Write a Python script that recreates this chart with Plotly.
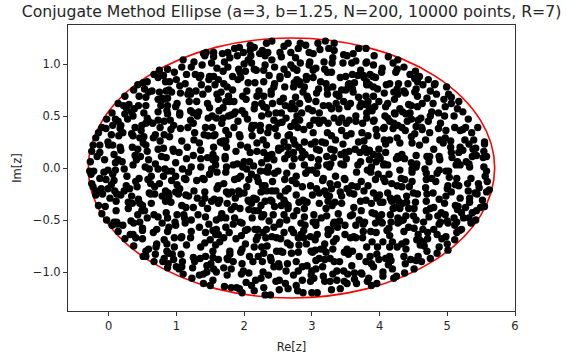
import plotly.graph_objects as go

# Ellipse boundary (Re centre, semi-axes)
ellipse_center_re = 2.7
ellipse_a = 3.0
ellipse_b = 1.25

x_ticks = [0, 1, 2, 3, 4, 5, 6]
y_ticks = [-1.0, -0.5, 0.0, 0.5, 1.0]
y_tick_text = ["\u22121.0", "\u22120.5", "0.0", "0.5", "1.0"]

# Eigenvalue estimates, Re[z] and Im[z] in hundredths, listed by band of Im[z] (top to bottom)
re_rows = [
    [193,209,215,233,241,259,265,283,291,309,320,333],
    [140,144,155,168,176,186,199,209,223,227,235,253,269,280,296,302,312,325,333,347,361,369,380],
    [110,126,142,155,171,179,190,206,210,231,241,255,276,297,318,331,352,365,381,392,413,427],
    [87,108,122,138,152,160,176,192,200,211,215,231,245,259,269,273,283,296,306,319,330,346,359,380,391,404,420,426,436],
    [67,75,81,97,115,128,136,149,155,169,183,194,202,218,229,237,253,264,278,292,302,323,329,350,360,368,372,376,386,390,403,424,445,453,459],
    [51,57,73,84,90,100,113,134,148,162,170,191,195,206,216,229,245,253,274,278,282,292,302,313,321,342,355,363,377,381,394,415,428,442,452,456,472,482],
    [37,43,53,64,85,89,105,119,129,137,147,157,175,183,204,222,240,244,260,273,283,289,310,323,331,344,350,354,360,381,385,391,397,410,426,436,454,464,475,481,499],
    [24,45,55,59,75,79,87,93,106,117,121,139,160,166,177,198,219,229,240,258,276,287,293,307,323,336,340,361,369,380,391,407,421,427,438,452,456,470,484,502,506],
    [14,22,30,44,55,73,77,81,87,101,119,130,146,162,173,179,185,203,216,226,242,253,261,271,282,295,306,317,325,336,347,357,373,379,383,399,412,422,443,447,463,479,495,506,517],
    [5,26,34,38,52,73,86,99,105,121,125,133,149,163,169,187,197,215,229,233,247,255,269,275,285,295,301,311,329,340,353,371,381,385,389,393,409,422,430,434,445,456,477,487,497,515,523],
    [-3,10,24,28,36,57,73,87,91,105,121,131,147,153,159,169,177,181,185,201,205,226,236,244,262,278,282,303,309,317,333,344,355,365,381,392,408,412,423,439,447,457,461,475,496,510,531],
    [-10,6,14,18,39,49,55,59,65,76,82,96,117,125,143,153,167,185,191,212,216,224,237,250,256,269,275,279,297,311,324,340,351,365,375,391,407,415,421,427,433,441,454,462,472,490,511,527,545],
    [-15,-4,4,17,21,34,48,69,82,92,106,127,141,157,173,177,193,211,224,235,246,267,288,302,323,344,358,374,395,406,420,438,452,463,474,487,498,519,523,536],
    [-19,-1,15,36,46,52,66,76,90,108,126,147,155,165,169,173,194,212,228,249,259,265,273,289,305,315,329,335,351,369,377,383,396,407,415,426,447,468,489,497,505,526,539,555],
    [-23,-13,0,6,17,35,43,51,55,73,81,95,116,134,155,168,174,195,205,219,233,251,255,265,275,281,299,307,320,328,346,364,378,399,409,430,448,459,480,494,505,519,532,538,542,555],
    [-25,-17,-13,8,18,39,47,57,78,96,104,125,136,154,172,188,209,219,229,237,241,251,265,273,286,290,311,322,333,343,349,355,371,381,385,391,399,409,427,433,454,470,474,488,506,517,523,537,543,554,558],
    [-27,-6,10,14,20,41,59,69,85,99,115,136,146,154,158,172,190,200,208,226,234,244,260,274,285,299,310,328,332,343,351,372,385,395,401,407,425,429,437,447,455,473,489,507,515,528,532,553],
    [-28,-22,-1,10,23,36,54,60,73,83,87,93,109,122,136,152,158,174,184,198,204,214,224,232,236,250,271,289,295,301,309,322,326,347,368,382,388,406,412,430,448,454,467,488,498,502,513,519,533,554,558],
    [-26,-13,-7,6,27,45,63,81,99,112,118,139,149,160,173,191,195,211,219,235,245,263,277,291,307,317,335,348,366,387,398,406,414,432,448,469,477,485,503,514,535,556],
    [-25,-4,4,8,26,40,58,62,75,93,101,114,130,141,162,170,186,207,221,227,231,242,260,271,277,298,316,327,338,349,359,373,383,394,408,418,426,437,448,469,483,501,512,530,546,559],
    [-23,-19,-11,-1,9,23,31,42,60,68,84,88,99,105,126,142,160,174,182,192,200,204,225,229,233,241,247,261,265,286,307,311,319,329,342,352,356,367,377,391,412,433,444,450,468,479,500,506,517,531,541,547,558,562],
    [-19,-9,2,12,18,34,44,62,68,79,89,103,114,118,131,142,156,164,177,187,193,206,214,218,239,253,259,277,287,301,322,326,344,362,380,396,400,416,420,426,440,456,470,488,498,519,533,544,552],
    [-15,-5,11,29,35,46,50,63,84,92,108,114,125,138,152,162,175,186,207,211,225,231,241,245,255,261,265,281,289,293,311,324,330,334,344,362,372,388,401,405,418,424,428,434,440,453,469,480,496,512,516,527,533,549,555],
    [-10,11,29,43,49,53,67,85,101,111,132,146,167,181,194,207,215,221,229,243,259,265,278,289,303,321,339,360,373,389,393,403,416,420,430,443,451,469,475,491,497,515,521,537,543],
    [-3,8,12,33,46,57,73,87,98,112,122,143,159,165,173,186,194,212,226,237,253,263,273,289,302,306,314,322,333,341,357,370,378,399,403,417,427,431,435,439,450,454,465,473,486,490,500,510,514,524,532,542],
    [5,13,21,37,50,71,79,89,99,113,134,148,159,173,184,197,205,216,220,233,244,252,270,284,290,306,324,332,338,349,365,376,394,404,414,427,443,451,464,480,488,501,511,521,535],
    [14,32,36,50,66,87,108,122,143,154,158,162,178,196,202,220,228,241,259,273,284,288,298,308,324,328,349,362,376,387,395,411,415,436,457,471,485,498,514,518],
    [24,40,50,71,82,86,97,107,121,142,150,164,170,188,202,218,232,248,254,264,280,288,292,305,319,332,336,357,365,375,389,405,419,433,439,455,459,465,471,492,500,511],
    [37,55,59,70,86,97,115,136,154,158,179,197,215,226,234,248,254,268,281,299,305,313,317,331,352,360,381,397,415,426,439,460,466,470,488,501],
    [51,55,69,82,88,94,107,125,135,143,154,175,179,195,208,221,229,239,257,270,280,301,311,321,327,348,354,370,386,396,409,415,436,457,475,485],
    [67,80,88,96,109,127,145,151,162,176,184,197,213,227,240,251,264,277,293,306,319,333,341,359,380,388,399,413,417,438,446,454,462],
    [87,100,104,108,124,145,155,159,170,181,199,207,228,244,252,262,280,286,300,306,316,337,347,363,373,391,405,419,437,451],
    [110,123,134,140,154,175,196,217,225,236,252,273,286,299,303,317,331,337,353,363,374,384,405,421,425],
    [140,150,171,181,189,203,211,229,247,261,277,298,319,327,348,352,366,382,388,396],
    [193,197,215,231,239,252,265,279,287,300,308,329,342],
]

im_rows = [
    [116,118,116,120,122,117,120,120,118,120,122,120],
    [110,111,111,110,111,115,111,113,110,113,111,111,111,115,111,110,114,115,113,109,110,115,115],
    [104,102,108,107,102,106,108,104,108,108,104,107,106,102,102,106,108,103,102,108,107,104],
    [95,97,97,99,101,96,97,95,100,101,95,99,97,95,99,96,101,99,96,95,101,101,101,101,99,96,101,95,97],
    [90,94,89,92,90,90,89,88,88,93,88,92,93,94,94,89,88,90,94,88,94,92,92,88,90,89,94,89,90,88,92,92,90,93,88],
    [82,83,87,83,83,85,81,87,85,85,81,85,87,82,82,83,81,86,82,85,83,85,87,83,81,87,81,82,87,83,87,81,81,81,86,83,85,81],
    [75,80,76,74,74,75,79,74,74,80,76,80,78,75,74,74,74,78,78,78,80,78,76,76,78,75,75,80,76,80,80,78,76,80,76,74,76,80,74,80,78],
    [69,69,68,73,73,67,67,73,72,71,71,71,71,73,69,69,69,69,71,67,68,73,69,72,71,71,69,73,68,69,69,72,73,71,72,73,69,67,71,71,68],
    [62,60,61,60,60,66,60,66,60,62,64,64,62,66,64,64,64,66,61,62,62,64,60,62,62,66,64,60,60,62,64,62,62,61,64,64,62,66,61,60,62,62,66,62,64],
    [53,58,54,57,53,54,55,59,53,55,53,54,58,55,58,54,55,57,59,58,53,53,57,57,53,57,55,53,57,57,59,59,53,58,55,59,59,53,57,54,53,59,54,53,59,57,54],
    [47,47,52,47,50,48,46,52,46,51,46,50,48,50,48,48,50,51,52,52,47,50,52,46,48,50,46,46,46,46,48,48,46,50,48,46,50,48,52,52,47,46,48,50,50,50,47],
    [39,41,45,41,39,41,43,45,43,39,45,41,39,43,39,39,43,39,45,41,41,41,39,43,44,40,44,39,41,43,43,44,43,45,43,45,39,45,43,41,39,45,40,39,45,43,39,39,39],
    [34,38,32,38,34,33,36,32,32,37,38,34,32,32,36,32,32,38,36,34,38,32,37,34,34,36,33,34,37,38,38,36,33,37,34,38,36,36,37,34],
    [29,25,31,31,29,30,29,26,30,26,27,31,31,25,26,26,30,31,27,31,25,31,27,25,25,25,31,27,31,25,26,31,31,27,27,29,30,27,27,29,26,27,27,25],
    [22,22,22,22,20,20,18,24,22,18,19,18,20,24,20,24,20,22,20,24,22,19,19,20,23,20,23,18,24,18,23,18,19,18,23,24,24,22,18,24,20,20,23,18,19,23],
    [16,11,15,13,17,12,11,16,11,16,15,12,17,13,11,16,15,16,15,12,13,17,13,15,16,13,17,11,17,13,15,16,15,15,17,13,11,15,11,13,12,11,11,11,15,15,17,11,12,16,11],
    [6,8,5,8,6,8,8,4,10,5,9,9,10,8,9,9,4,6,6,5,9,8,9,9,10,10,8,4,10,4,9,6,8,6,9,4,9,10,9,5,4,6,8,10,6,6,4,10],
    [-3,-3,-2,-2,-1,3,1,-1,-1,-1,-3,-3,-1,1,1,-1,3,1,3,1,-1,2,-3,-3,1,-3,2,3,-2,-2,2,3,1,3,3,-2,1,3,3,-2,-1,1,-1,-2,-3,-3,3,3,1,1,-3],
    [-6,-10,-4,-6,-8,-10,-8,-8,-8,-10,-4,-10,-6,-4,-4,-10,-8,-6,-9,-4,-5,-5,-8,-5,-5,-10,-8,-10,-4,-4,-6,-10,-6,-10,-4,-5,-10,-5,-9,-10,-10,-8],
    [-15,-11,-16,-12,-17,-13,-11,-15,-15,-12,-16,-11,-12,-11,-17,-15,-11,-11,-13,-17,-17,-13,-11,-12,-15,-17,-12,-15,-16,-11,-17,-13,-17,-11,-13,-15,-17,-11,-13,-11,-13,-17,-16,-15,-15,-13],
    [-18,-22,-20,-20,-22,-22,-20,-18,-24,-18,-22,-24,-23,-20,-22,-23,-20,-23,-23,-22,-24,-18,-23,-20,-22,-22,-22,-22,-20,-18,-20,-24,-22,-20,-23,-20,-24,-18,-22,-24,-24,-18,-18,-24,-19,-24,-20,-23,-17,-22,-24,-19,-23,-21],
    [-26,-25,-29,-25,-26,-27,-30,-25,-25,-27,-27,-25,-26,-27,-29,-29,-30,-31,-25,-29,-25,-31,-29,-30,-31,-27,-31,-26,-31,-26,-26,-27,-27,-25,-31,-29,-26,-29,-31,-29,-27,-25,-25,-30,-27,-29,-29,-25,-31],
    [-36,-37,-32,-33,-34,-34,-36,-34,-32,-33,-36,-38,-38,-34,-32,-34,-34,-37,-32,-34,-36,-32,-32,-37,-36,-34,-36,-33,-32,-33,-34,-32,-36,-33,-34,-38,-32,-34,-33,-33,-32,-38,-32,-34,-33,-33,-32,-38,-34,-36,-37,-38,-33,-38,-37],
    [-44,-41,-39,-45,-41,-41,-45,-43,-45,-45,-45,-39,-44,-40,-39,-40,-41,-41,-45,-45,-45,-39,-41,-39,-45,-39,-44,-45,-41,-43,-44,-45,-45,-39,-39,-39,-39,-41,-39,-43,-45,-40,-43,-43,-41],
    [-50,-52,-52,-51,-52,-48,-47,-48,-52,-48,-50,-47,-50,-48,-48,-48,-52,-48,-47,-51,-52,-50,-46,-47,-52,-52,-48,-46,-52,-51,-46,-50,-52,-48,-52,-52,-48,-51,-50,-46,-46,-50,-52,-47,-46,-52,-51,-48,-52,-48,-48,-50],
    [-55,-54,-55,-53,-58,-59,-53,-57,-55,-53,-57,-54,-59,-57,-54,-53,-59,-59,-59,-59,-57,-54,-59,-53,-55,-55,-59,-54,-57,-55,-55,-54,-53,-53,-58,-53,-57,-58,-59,-59,-54,-53,-55,-59,-53],
    [-61,-64,-64,-60,-62,-61,-66,-61,-62,-60,-64,-64,-62,-65,-60,-66,-62,-66,-62,-62,-64,-60,-66,-64,-64,-60,-64,-66,-61,-61,-62,-60,-65,-61,-64,-62,-64,-66,-62,-60],
    [-68,-67,-68,-73,-69,-73,-67,-67,-67,-72,-69,-71,-67,-68,-73,-69,-67,-67,-68,-72,-67,-67,-73,-69,-73,-71,-68,-67,-67,-67,-71,-71,-71,-73,-71,-69,-69,-71,-68,-68,-73,-69],
    [-75,-80,-78,-76,-80,-76,-74,-76,-80,-74,-80,-78,-76,-76,-75,-80,-80,-74,-74,-80,-79,-78,-78,-78,-78,-80,-76,-76,-76,-76,-78,-74,-75,-80,-76,-79],
    [-85,-85,-83,-87,-82,-83,-83,-86,-87,-85,-86,-87,-83,-81,-85,-85,-82,-86,-81,-82,-81,-81,-87,-81,-87,-81,-83,-85,-85,-83,-87,-85,-85,-85,-87,-82],
    [-90,-90,-92,-88,-90,-90,-94,-92,-88,-88,-90,-92,-90,-90,-89,-92,-92,-90,-94,-89,-88,-90,-90,-94,-90,-92,-88,-93,-89,-92,-88,-89,-90],
    [-96,-95,-97,-95,-96,-100,-97,-100,-96,-97,-99,-101,-100,-95,-95,-99,-99,-95,-99,-97,-95,-99,-99,-101,-101,-95,-100,-97,-101,-97],
    [-102,-106,-103,-102,-108,-103,-102,-108,-106,-103,-108,-103,-108,-103,-106,-104,-102,-108,-102,-107,-102,-106,-104,-106,-104],
    [-111,-113,-114,-115,-115,-110,-113,-115,-109,-111,-113,-109,-109,-109,-109,-111,-111,-109,-113,-111],
    [-116,-120,-118,-122,-122,-117,-116,-118,-120,-120,-120,-117,-116],
]

re_vals = []
im_vals = []
for xs, ys in zip(re_rows, im_rows):
    n = min(len(xs), len(ys))
    re_vals.extend(v / 100 for v in xs[:n])
    im_vals.extend(v / 100 for v in ys[:n])

fig = go.Figure()
fig.add_trace(go.Scatter(
    x=re_vals, y=im_vals, mode="markers",
    marker=dict(color="black", size=7.4, line=dict(width=0)),
    hoverinfo="skip", showlegend=False,
))

fig.add_shape(
    type="circle", xref="x", yref="y", layer="below",
    x0=ellipse_center_re - ellipse_a, x1=ellipse_center_re + ellipse_a,
    y0=-ellipse_b, y1=ellipse_b,
    line=dict(color="#ff0000", width=1.6),
)

font_family = "DejaVu Sans"
axis_common = dict(
    showgrid=False, zeroline=False, showline=True, mirror=True,
    linecolor="#333333", linewidth=1, ticks="outside", ticklen=4,
    tickcolor="#333333", tickwidth=1,
    tickfont=dict(family=font_family, size=11.5, color="#262626"),
)

fig.update_layout(
    width=567, height=364,
    margin=dict(l=68, r=52, t=25, b=48),
    paper_bgcolor="white", plot_bgcolor="white",
    title=dict(
        text="Conjugate Method Ellipse (a=3, b=1.25, N=200, 10000 points, R=7)",
        x=(68 + 515) / 2 / 567, xanchor="center", y=1 - 12 / 364, yanchor="middle",
        font=dict(family=font_family, size=15.7, color="#262626"),
    ),
    xaxis=dict(
        range=[-0.6, 6.0], tickvals=x_ticks,
        title=dict(text="Re[z]", font=dict(family=font_family, size=11.5, color="#262626"), standoff=11),
        **axis_common,
    ),
    yaxis=dict(
        range=[-1.375, 1.375], tickvals=y_ticks, ticktext=y_tick_text,
        title=dict(text="Im[z]", font=dict(family=font_family, size=11.5, color="#262626"), standoff=8),
        **axis_common,
    ),
)

fig.write_html("out.html")
